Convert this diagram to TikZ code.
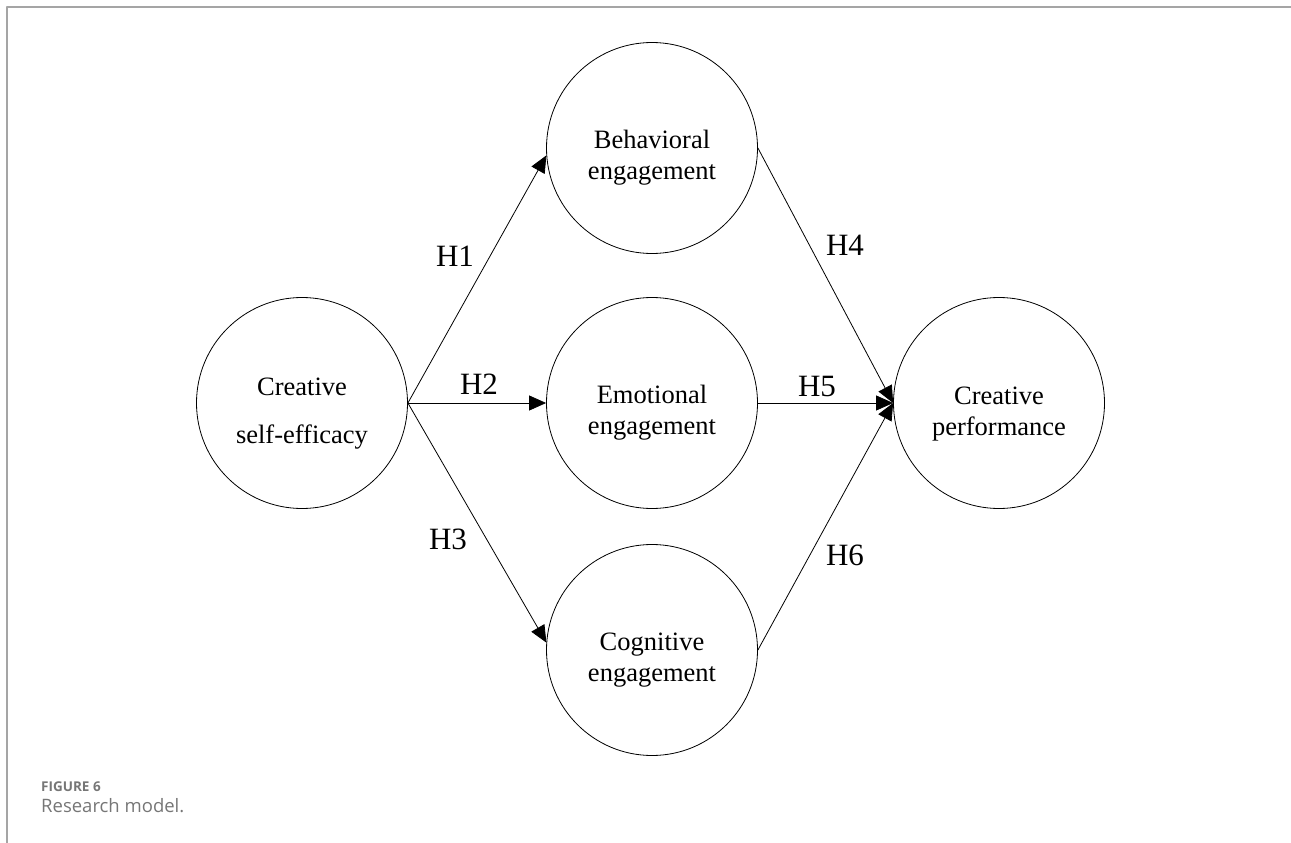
\documentclass[tikz,border=0pt]{standalone}
\usepackage{fontspec}
\setmainfont{Liberation Serif}
\newfontfamily\capfont{Open Sans}
\usepackage{tikz}
\usetikzlibrary{arrows.meta}
\definecolor{capgray}{RGB}{118,118,118}
\definecolor{rulegray}{RGB}{165,165,165}

\begin{document}
\begin{tikzpicture}[line cap=round,line join=round,>={Triangle[length=17pt,width=15pt]},x=1pt,y=-1pt,
  var/.style={draw,circle,line width=0.8pt,minimum size=211pt,inner sep=0pt},
  vtxt/.style={align=center,inner sep=0pt,font=\fontsize{26.5}{31}\selectfont},
  hyp/.style={inner sep=0pt,font=\fontsize{31}{36}\selectfont},
  link/.style={line width=0.8pt,->}]
\useasboundingbox (0,0) rectangle (1291,843);
\draw [line width=1.5pt,rulegray] (7,843)-- (7,7)-- (1291,7);
\node[var] (cse) at (302,403) {};
\node[var] (bhv) at (652,148) {};
\node[var] (emo) at (652,403) {};
\node[var] (cog) at (652,650) {};
\node[var] (cpf) at (999,403) {};
\node[vtxt] (cset) at ([yshift=-11pt]cse.center) {Creative\\[17pt]self-efficacy};
\node[vtxt] (bhvt) at ([yshift=-10pt]bhv.center) {Behavioral\\engagement};
\node[vtxt] (emot) at ([yshift=-10pt]emo.center) {Emotional\\engagement};
\node[vtxt] (cogt) at ([yshift=-10pt]cog.center) {Cognitive\\engagement};
\node[vtxt] (cpft) at ([yshift=-11pt]cpf.center) {Creative\\performance};
\draw [link] (cse.east)-- (bhv.184);
\draw [link] (cse.east)-- (emo.west);
\draw [link] (cse.east)-- (cog.176);
\draw [link] (bhv.east)-- (cpf.west);
\draw [link] (emo.east)-- (cpf.west);
\draw [link] (cog.east)-- (cpf.west);
\node[hyp] (h1) at (455,256) {H1};
\node[hyp] (h2) at (479,384) {H2};
\node[hyp] (h3) at (448,539) {H3};
\node[hyp] (h4) at (845,245) {H4};
\node[hyp] (h5) at (817,386) {H5};
\node[hyp] (h6) at (845,555) {H6};
\node[anchor=base west,inner sep=0pt,text=capgray,font=\capfont\bfseries\fontsize{13.5}{16}\selectfont] (fig) at (41,791) {FIGURE 6};
\node[anchor=base west,inner sep=0pt,text=capgray,font=\capfont\fontsize{18.5}{22}\selectfont] (cap) at (41,812) {Research model.};
\end{tikzpicture}
\end{document}
